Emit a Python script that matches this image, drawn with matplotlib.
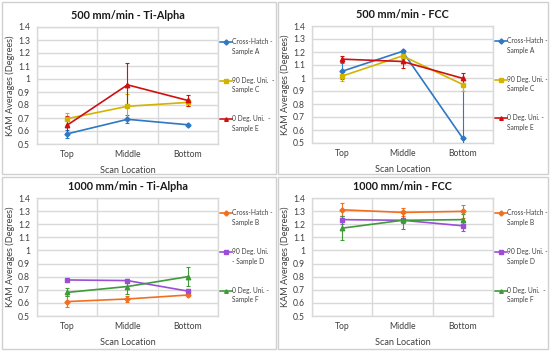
import matplotlib
matplotlib.use("Agg")
import matplotlib.pyplot as plt
from matplotlib.patches import Rectangle
from matplotlib.lines import Line2D

plt.rcParams['font.family'] = ['Lato', 'DejaVu Sans']

locations = ["Top", "Middle", "Bottom"]

# Panel 1: 500 mm/min - Ti-Alpha
p1_title = "500 mm/min - Ti-Alpha"
p1_labels = ["Cross-Hatch -\nSample A", "90 Deg. Uni.  -\nSample C", "0 Deg. Uni.  -\nSample E"]
p1_A = [0.578, 0.690, 0.648]
p1_A_err = [0.03, 0.03, 0.0]
p1_C = [0.695, 0.790, 0.820]
p1_C_err = [0.045, 0.095, 0.03]
p1_E = [0.645, 0.955, 0.835]
p1_E_err = [0.07, 0.17, 0.045]

# Panel 2: 500 mm/min - FCC
p2_title = "500 mm/min - FCC"
p2_labels = ["Cross-Hatch -\nSample A", "90 Deg. Uni. -\nSample C", "0 Deg. Uni. -\nSample E"]
p2_A = [1.052, 1.205, 0.535]
p2_A_err = [0.06, 0.01, 0.40]
p2_C = [1.015, 1.170, 0.950]
p2_C_err = [0.04, 0.02, 0.05]
p2_E = [1.145, 1.127, 0.997]
p2_E_err = [0.025, 0.05, 0.04]

# Panel 3: 1000 mm/min - Ti-Alpha
p3_title = "1000 mm/min - Ti-Alpha"
p3_labels = ["Cross-Hatch -\nSample B", "90 Deg. Uni.\n- Sample D", "0 Deg. Uni. -\nSample F"]
p3_B = [0.610, 0.630, 0.660]
p3_B_err = [0.04, 0.02, 0.01]
p3_D = [0.775, 0.770, 0.690]
p3_D_err = [0.015, 0.015, 0.015]
p3_F = [0.680, 0.725, 0.800]
p3_F_err = [0.03, 0.06, 0.07]

# Panel 4: 1000 mm/min - FCC
p4_title = "1000 mm/min - FCC"
p4_labels = ["Cross-Hatch -\nSample B", "90 Deg. Uni. -\nSample D", "0 Deg. Uni.  -\nSample F"]
p4_B = [1.310, 1.290, 1.298]
p4_B_err = [0.05, 0.03, 0.05]
p4_D = [1.235, 1.230, 1.188]
p4_D_err = [0.03, 0.02, 0.04]
p4_F = [1.170, 1.230, 1.235]
p4_F_err = [0.09, 0.07, 0.04]

yticks = [0.5, 0.6, 0.7, 0.8, 0.9, 1.0, 1.1, 1.2, 1.3, 1.4]
yticklabels = ["0.5", "0.6", "0.7", "0.8", "0.9", "1", "1.1", "1.2", "1.3", "1.4"]

BLUE = "#2F78C4"
YELLOW = "#D2B400"
RED = "#D01010"
ORANGE = "#F07020"
PURPLE = "#9A4FD6"
GREEN = "#3F9A3A"

W, H = 550, 351
fig = plt.figure(figsize=(W / 100, H / 100), dpi=100)
fig.patch.set_facecolor("white")

def px(x0, y0, x1, y1):
    return [x0 / W, 1 - y1 / H, (x1 - x0) / W, (y1 - y0) / H]

# panel frames
for (x0, y0, x1, y1) in [(2, 2, 276, 174), (278, 2, 548, 174), (2, 177, 276, 349), (278, 177, 548, 349)]:
    fig.patches.append(Rectangle((x0 / W, 1 - y1 / H), (x1 - x0) / W, (y1 - y0) / H,
                                 transform=fig.transFigure, fill=False,
                                 edgecolor="#D0D0D0", linewidth=1.0))

panels = [
    (px(37, 27, 218, 144), p1_title, p1_labels,
     [(p1_A, p1_A_err, BLUE, "D"), (p1_C, p1_C_err, YELLOW, "s"), (p1_E, p1_E_err, RED, "^")]),
    (px(312, 26, 493, 143), p2_title, p2_labels,
     [(p2_A, p2_A_err, BLUE, "D"), (p2_C, p2_C_err, YELLOW, "s"), (p2_E, p2_E_err, RED, "^")]),
    (px(37, 198, 218, 316), p3_title, p3_labels,
     [(p3_B, p3_B_err, ORANGE, "D"), (p3_D, p3_D_err, PURPLE, "s"), (p3_F, p3_F_err, GREEN, "^")]),
    (px(312, 198, 493, 316), p4_title, p4_labels,
     [(p4_B, p4_B_err, ORANGE, "D"), (p4_D, p4_D_err, PURPLE, "s"), (p4_F, p4_F_err, GREEN, "^")]),
]

TXT = "#404040"
for rect, title, labels, series in panels:
    ax = fig.add_axes(rect)
    x = list(range(len(locations)))
    hpx = rect[3] * H
    wpx = rect[2] * W
    for vals, errs, color, mk in series:
        ax.errorbar(x, vals, yerr=errs, color=color, ecolor=color, elinewidth=0.8,
                    capsize=1.3, capthick=0.8, lw=1.2, marker=mk,
                    markersize=2.6 if mk == "D" else 3.2, zorder=3, clip_on=True)
    ax.set_xlim(-0.5, 2.5)
    ax.set_ylim(0.5, 1.4)
    ax.set_yticks(yticks)
    ax.set_yticklabels(yticklabels)
    ax.set_xticks(x)
    ax.set_xticklabels(locations)
    ax.set_xticks([-0.5, 0, 0.5, 1, 1.5, 2, 2.5], minor=True)
    ax.grid(True, which="minor", axis="x", color="#D9D9D9", lw=1.0, zorder=0)
    ax.grid(True, which="major", axis="y", color="#D9D9D9", lw=1.0, zorder=0)
    ax.tick_params(which="both", length=0, labelsize=6.2, colors=TXT)
    ax.tick_params(axis="x", pad=4)
    ax.tick_params(axis="y", pad=5)
    for s in ax.spines.values():
        s.set_color("#D9D9D9")
        s.set_linewidth(1.0)
    ax.set_axisbelow(True)
    ax.set_title(title, fontsize=7.8, fontweight="bold", color="#1A1A1A", pad=6)
    ax.set_xlabel("Scan Location", fontsize=6.6, color=TXT)
    ax.xaxis.set_label_coords(0.5, -22 / hpx)
    ax.set_ylabel("KAM Averages (Degrees)", fontsize=6.6, color=TXT)
    ax.yaxis.set_label_coords(-22 / wpx, 0.5)
    # manual legend to the right
    for i, ((vals, errs, color, mk), lab) in enumerate(zip(series, labels)):
        yy = 0.87 - i * 0.33
        ax.add_line(Line2D([1.012, 1.075], [yy, yy], transform=ax.transAxes, color=color,
                           lw=1.2, clip_on=False))
        ax.add_line(Line2D([1.043], [yy], transform=ax.transAxes, color=color,
                           marker=mk, markersize=2.6, clip_on=False))
        ax.text(1.08, yy + 0.035, lab, transform=ax.transAxes, fontsize=4.8, color=TXT,
                va="top", ha="left", linespacing=1.4)

fig.savefig("out.png", dpi=100, facecolor="white")
